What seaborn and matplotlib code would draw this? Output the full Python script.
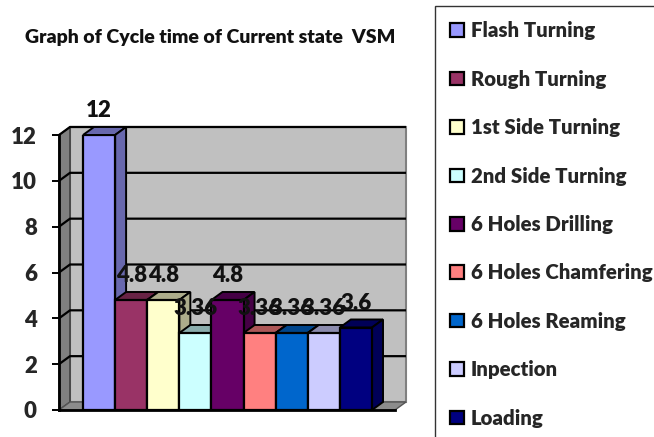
"""Cycle time of current state VSM, drawn as a pseudo 3D bar chart."""
import matplotlib.pyplot as plt
from matplotlib.colors import to_rgb
from matplotlib.patches import Polygon
import pandas as pd
import seaborn as sns

steps = ['Flash Turning', 'Rough Turning', '1st Side Turning', '2nd Side Turning',
         '6 Holes Drilling', '6 Holes Chamfering', '6 Holes Reaming', 'Inpection', 'Loading']
cycle_times = [12, 4.8, 4.8, 3.36, 4.8, 3.36, 3.36, 3.36, 3.6]
value_labels = ['12', '4.8', '4.8', '3.36', '4.8', '3.36', '3.36', '3.36', '3.6']
bar_colors = ['#9999FF', '#993366', '#FFFFCC', '#CCFFFF', '#660066',
              '#FF8080', '#0066CC', '#CCCCFF', '#000080']
y_ticks = [0, 2, 4, 6, 8, 10, 12]

sns.set_style('white')
plt.rcParams['font.family'] = ['Lato', 'DejaVu Sans']
plt.rcParams['font.weight'] = 'heavy'
WEIGHT = 'heavy'

W, H = 654, 437
fig = plt.figure(figsize=(W / 100, H / 100), dpi=100)
ax = fig.add_axes([59 / W, (H - 410) / H, (395 - 59) / W, 275 / H])
ax.patch.set_alpha(0)

data = pd.DataFrame({'step': steps, 'time': cycle_times})
sns.barplot(data=data, x='step', y='time', hue='step', palette=bar_colors, width=1,
            dodge=False, saturation=1, legend=False, edgecolor='black', linewidth=1.6, ax=ax)

# axes limits: one bar is 32.1 px wide, one y unit is 22.9 px
x_left, x_right = -1.247, 9.216
ax.set_xlim(x_left, x_right)
ax.set_ylim(0, 12)
depth_x = 11 / 32.1
depth_y = 8 / 22.9

# walls and floor behind the bars
ax.add_patch(Polygon([(x_left + depth_x, depth_y), (x_right + depth_x, depth_y),
                      (x_right + depth_x, 12 + depth_y), (x_left + depth_x, 12 + depth_y)],
                     fc='#C0C0C0', ec='#808080', lw=1.5, zorder=0, clip_on=False))
ax.add_patch(Polygon([(x_left, 0), (x_left + depth_x, depth_y),
                      (x_left + depth_x, 12 + depth_y), (x_left, 12)],
                     fc='#808080', ec='#333333', lw=1, zorder=0.5, clip_on=False))
ax.add_patch(Polygon([(x_left, 0), (x_right, 0), (x_right + depth_x, depth_y), (x_left + depth_x, depth_y)],
                     fc='#8C8C8C', ec='#555555', lw=1, zorder=0.5, clip_on=False))

# gridlines run across the back wall and down the side wall
for tick in y_ticks[1:]:
    ax.plot([x_left, x_left + depth_x, x_right + depth_x], [tick, tick + depth_y, tick + depth_y],
            color='black', lw=1.6, zorder=1, clip_on=False, solid_capstyle='butt')

# top and side faces of each bar, taken from the bars seaborn drew
for container in ax.containers:
    bar = container[0]
    bar.set_zorder(3)
    x0, x1, top = bar.get_x(), bar.get_x() + bar.get_width(), bar.get_height()
    shade = tuple(c * 0.68 for c in to_rgb(bar.get_facecolor()))
    ax.add_patch(Polygon([(x0, top), (x1, top), (x1 + depth_x, top + depth_y), (x0 + depth_x, top + depth_y)],
                         fc=shade, ec='black', lw=1.4, zorder=2, clip_on=False))
    ax.add_patch(Polygon([(x1, 0), (x1 + depth_x, depth_y), (x1 + depth_x, top + depth_y), (x1, top)],
                         fc=shade, ec='black', lw=1.4, zorder=2, clip_on=False))

for container, label in zip(ax.containers, value_labels):
    texts = ax.bar_label(container, labels=[label], padding=10, fontsize=16, fontweight=WEIGHT, color='#111111')
    texts[0].set_zorder(5)

ax.set_xlabel('')
ax.set_ylabel('')
ax.set_xticks([])
ax.set_yticks(y_ticks)
ax.tick_params(axis='y', length=5, width=1.4, color='black', pad=11, labelsize=16, left=True)
sns.despine(ax=ax, top=True, right=True)
for side in ['left', 'bottom']:
    ax.spines[side].set_linewidth(2)
    ax.spines[side].set_color('black')
    ax.spines[side].set_zorder(2.5)

fig.text(210 / W, (H - 38) / H, 'Graph of Cycle time of Current state  VSM',
         ha='center', va='center', fontsize=14, fontweight=WEIGHT, color='#111111')

legend = fig.legend([c[0] for c in ax.containers], steps, loc='upper left',
                    bbox_to_anchor=(435 / W, (H - 6) / H), bbox_transform=fig.transFigure,
                    prop={'size': 14.7, 'weight': WEIGHT}, frameon=True, fancybox=False,
                    edgecolor='#333333', framealpha=1, borderaxespad=0, borderpad=0.75,
                    labelspacing=1.44, handlelength=0.65, handleheight=0.65, handletextpad=0.35)
legend.get_frame().set_linewidth(1)

fig.savefig('out.png', dpi=100)
